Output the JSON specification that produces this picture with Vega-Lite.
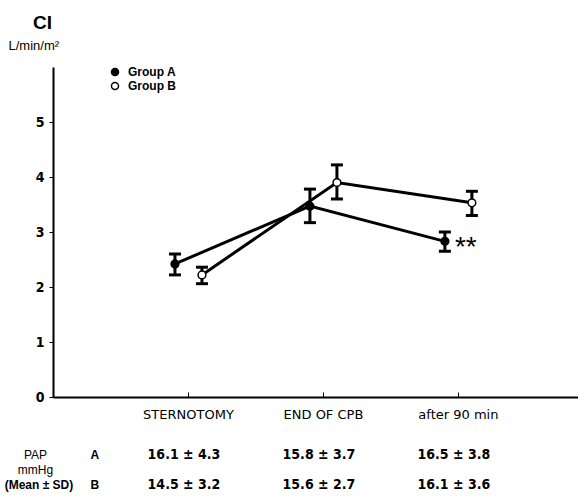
{
  "$schema": "https://vega.github.io/schema/vega-lite/v6.json",
  "autosize": {"type": "none"},
  "width": 525,
  "height": 330,
  "padding": {"left": 53, "top": 67, "right": 0, "bottom": 105},
  "background": "white",
  "title": {"text": "CI", "anchor": "start", "frame": "group", "dx": -20, "offset": 6, "fontSize": 19, "font": "Liberation Sans", "fontWeight": "bold", "color": "black"},
  "config": {
    "view": {"stroke": null},
    "axis": {"domainColor": "black", "domainWidth": 2, "tickColor": "black", "labelColor": "black", "titleColor": "black", "grid": false}
  },
  "datasets": {
    "ci": [
      {"group": "Group A", "time": 1, "mean": 2.42, "lo": 2.22, "hi": 2.6},
      {"group": "Group B", "time": 1, "mean": 2.22, "lo": 2.06, "hi": 2.36},
      {"group": "Group A", "time": 2, "mean": 3.47, "lo": 3.17, "hi": 3.78},
      {"group": "Group B", "time": 2, "mean": 3.9, "lo": 3.6, "hi": 4.22},
      {"group": "Group A", "time": 3, "mean": 2.83, "lo": 2.65, "hi": 3.0},
      {"group": "Group B", "time": 3, "mean": 3.53, "lo": 3.3, "hi": 3.74}
    ],
    "pap": [
      {"row": "A", "time": 1, "text": "16.1 ± 4.3"},
      {"row": "A", "time": 2, "text": "15.8 ± 3.7"},
      {"row": "A", "time": 3, "text": "16.5 ± 3.8"},
      {"row": "B", "time": 1, "text": "14.5 ± 3.2"},
      {"row": "B", "time": 2, "text": "15.6 ± 2.7"},
      {"row": "B", "time": 3, "text": "16.1 ± 3.6"}
    ]
  },
  "layer": [
    {
      "data": {"name": "ci"},
      "encoding": {
        "x": {"field": "time", "type": "quantitative", "scale": {"domain": [0, 3.89], "nice": false},
          "axis": {"values": [1, 2, 3], "title": null, "tickSize": -5, "tickWidth": 1, "labelPadding": 16,
            "labelExpr": "datum.value == 1 ? 'STERNOTOMY' : datum.value == 2 ? 'END OF CPB' : 'after 90 min'",
            "labelFont": "DejaVu Sans", "labelFontSize": 13, "labelFontWeight": "normal"}},
        "y": {"field": "mean", "type": "quantitative", "scale": {"domain": [0, 6], "nice": false}, "title": "L/min/m²",
          "axis": {"values": [0, 1, 2, 3, 4, 5], "format": "d", "tickSize": 4, "labelPadding": 5, "labelFont": "DejaVu Sans Condensed", "labelFontSize": 14, "labelFontWeight": "bold",
            "titleAngle": 0, "titleX": -45, "titleY": -18, "titleAlign": "left", "titleBaseline": "alphabetic", "titleFont": "Liberation Sans", "titleFontSize": 13, "titleFontWeight": "normal"}}
      },
      "layer": [
        {
          "transform": [{"filter": "datum.group == 'Group A'"}],
          "mark": {"type": "line", "color": "black", "strokeWidth": 3, "xOffset": -13}
        },
        {
          "transform": [{"filter": "datum.group == 'Group B'"}],
          "mark": {"type": "line", "color": "black", "strokeWidth": 3, "xOffset": 14}
        },
        {
          "transform": [{"filter": "datum.group == 'Group A'"}],
          "mark": {"type": "rule", "color": "black", "strokeWidth": 3, "xOffset": -13},
          "encoding": {"y": {"field": "lo", "type": "quantitative", "title": "L/min/m²"}, "y2": {"field": "hi"}}
        },
        {
          "transform": [{"filter": "datum.group == 'Group B'"}],
          "mark": {"type": "rule", "color": "black", "strokeWidth": 3, "xOffset": 14},
          "encoding": {"y": {"field": "lo", "type": "quantitative", "title": "L/min/m²"}, "y2": {"field": "hi"}}
        },
        {
          "transform": [{"filter": "datum.group == 'Group A'"}],
          "mark": {"type": "tick", "orient": "horizontal", "color": "black", "opacity": 1, "size": 12, "thickness": 3, "xOffset": -13},
          "encoding": {"y": {"field": "lo", "type": "quantitative", "title": "L/min/m²"}}
        },
        {
          "transform": [{"filter": "datum.group == 'Group A'"}],
          "mark": {"type": "tick", "orient": "horizontal", "color": "black", "opacity": 1, "size": 12, "thickness": 3, "xOffset": -13},
          "encoding": {"y": {"field": "hi", "type": "quantitative", "title": "L/min/m²"}}
        },
        {
          "transform": [{"filter": "datum.group == 'Group B'"}],
          "mark": {"type": "tick", "orient": "horizontal", "color": "black", "opacity": 1, "size": 12, "thickness": 3, "xOffset": 14},
          "encoding": {"y": {"field": "lo", "type": "quantitative", "title": "L/min/m²"}}
        },
        {
          "transform": [{"filter": "datum.group == 'Group B'"}],
          "mark": {"type": "tick", "orient": "horizontal", "color": "black", "opacity": 1, "size": 12, "thickness": 3, "xOffset": 14},
          "encoding": {"y": {"field": "hi", "type": "quantitative", "title": "L/min/m²"}}
        },
        {
          "transform": [{"filter": "datum.group == 'Group A'"}],
          "mark": {"type": "point", "shape": "circle", "filled": true, "size": 60, "stroke": "black", "strokeWidth": 1.5, "opacity": 1, "xOffset": -13},
          "encoding": {
            "fill": {"field": "group", "type": "nominal", "scale": {"domain": ["Group A", "Group B"], "range": ["black", "white"]},
              "legend": {"title": null, "orient": "none", "legendX": 56, "legendY": -1, "symbolType": "circle", "symbolSize": 50, "symbolStrokeColor": "black", "symbolStrokeWidth": 1.5, "labelFont": "Liberation Sans", "labelFontSize": 12, "labelFontWeight": "bold", "labelColor": "black", "rowPadding": 0, "labelOffset": 7}}
          }
        },
        {
          "transform": [{"filter": "datum.group == 'Group B'"}],
          "mark": {"type": "point", "shape": "circle", "filled": true, "size": 60, "stroke": "black", "strokeWidth": 1.5, "opacity": 1, "xOffset": 14},
          "encoding": {
            "fill": {"field": "group", "type": "nominal", "scale": {"domain": ["Group A", "Group B"], "range": ["black", "white"]}}
          }
        },
        {
          "transform": [{"filter": "datum.group == 'Group A' && datum.time == 3"}],
          "mark": {"type": "text", "text": "**", "align": "left", "baseline": "middle", "xOffset": -3, "dy": 7, "fontSize": 28, "font": "Liberation Sans", "color": "black"}
        }
      ]
    },
    {
      "data": {"name": "pap"},
      "mark": {"type": "text", "font": "DejaVu Sans Condensed", "fontWeight": "bold", "fontSize": 14, "color": "black", "align": "center", "baseline": "middle", "dx": -4},
      "encoding": {
        "x": {"field": "time", "type": "quantitative"},
        "y": {"field": "row", "type": "nominal", "scale": {"type": "point", "domain": ["A", "mmHg", "B"], "range": [388, 418], "padding": 0}, "axis": null},
        "text": {"field": "text"}
      }
    },
    {
      "data": {"values": [{"row": "A", "label": "A"}, {"row": "B", "label": "B"}]},
      "mark": {"type": "text", "font": "Liberation Sans", "fontWeight": "bold", "fontSize": 12, "color": "black", "align": "center", "baseline": "middle"},
      "encoding": {
        "x": {"datum": 0.31, "type": "quantitative"},
        "y": {"field": "row", "type": "nominal", "scale": {"type": "point", "domain": ["A", "mmHg", "B"], "range": [388, 418], "padding": 0}, "axis": null},
        "text": {"field": "label"}
      }
    },
    {
      "data": {"values": [{"row": "A", "label": "PAP"}, {"row": "mmHg", "label": "mmHg"}]},
      "mark": {"type": "text", "font": "Liberation Sans", "fontSize": 12, "color": "black", "align": "center", "baseline": "middle"},
      "encoding": {
        "x": {"datum": -0.13, "type": "quantitative"},
        "y": {"field": "row", "type": "nominal", "scale": {"type": "point", "domain": ["A", "mmHg", "B"], "range": [388, 418], "padding": 0}, "axis": null},
        "text": {"field": "label"},
        "fontWeight": {"condition": {"test": "datum.label == 'PAP'", "value": "bold"}, "value": "normal"}
      }
    },
    {
      "data": {"values": [{"row": "B", "label": "(Mean ± SD)"}]},
      "mark": {"type": "text", "font": "Liberation Sans", "fontSize": 12, "fontWeight": "bold", "color": "black", "align": "right", "baseline": "middle"},
      "encoding": {
        "x": {"datum": 0.15, "type": "quantitative"},
        "y": {"field": "row", "type": "nominal", "scale": {"type": "point", "domain": ["A", "mmHg", "B"], "range": [388, 418], "padding": 0}, "axis": null},
        "text": {"field": "label"}
      }
    }
  ],
  "resolve": {"scale": {"y": "independent"}}
}
